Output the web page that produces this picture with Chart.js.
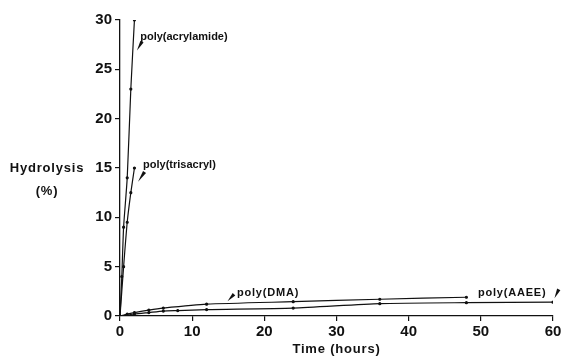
<!DOCTYPE html>
<html>
<head>
<meta charset="utf-8">
<script src="https://cdn.jsdelivr.net/npm/chart.js@4/dist/chart.umd.min.js"></script>
<style>
  html, body { margin: 0; padding: 0; background: #fff; }
  #wrap { width: 567px; height: 359px; }
</style>
</head>
<body>
<div id="wrap"><canvas id="chart"></canvas></div>
<script>
// values: time (h) and hydrolysis (%)
const acrylamideTime = [0, 0.25, 0.5, 1, 1.5, 2];
const acrylamideHyd = [0, 4, 9, 14, 23, 30];
const trisacrylTime = [0, 0.5, 1, 1.5, 2];
const trisacrylHyd = [0, 5, 9.5, 12.5, 15];
const dmaTime = [0, 1, 2, 4, 6, 12, 24, 36, 48];
const dmaHyd = [0, 0.2, 0.35, 0.6, 0.8, 1.2, 1.45, 1.7, 1.9];
const aaeeTime = [0, 2, 4, 6, 8, 12, 24, 36, 48, 60];
const aaeeHyd = [0, 0.2, 0.35, 0.5, 0.55, 0.65, 0.8, 1.25, 1.35, 1.4];

const xTicks = [0, 10, 20, 30, 40, 50, 60];
const yTicks = [0, 5, 10, 15, 20, 25, 30];

// curve labels: text, text anchor (h, %), arrow tail and tip (h, %)
const labels = [
  { text: 'poly(acrylamide)', at: [2.8, 28.3], tail: [3.05, 27.8], tip: [2.35, 26.9] },
  { text: 'poly(trisacryl)', at: [3.2, 15.3], tail: [3.4, 14.6], tip: [2.5, 13.6] },
  { text: 'poly(DMA)', at: [16.2, 2.35], tail: [15.8, 2.2], tip: [14.9, 1.5] },
  { text: 'poly(AAEE)', at: [49.6, 2.35], tail: [60.8, 2.7], tip: [60.2, 1.8] }
];

const ink = '#111';
const font = 'Liberation Sans, Arial, sans-serif';

function pairs(xs, ys) {
  return xs.map((x, i) => ({ x: x, y: ys[i] }));
}

function series(xs, ys) {
  return {
    data: pairs(xs, ys),
    borderColor: ink,
    backgroundColor: ink,
    borderWidth: 1.2,
    pointRadius: 1,
    pointHoverRadius: 1,
    tension: 0.2,
    showLine: true
  };
}

const labelPlugin = {
  id: 'curveLabels',
  afterDraw(chart) {
    const ctx = chart.ctx;
    const x = chart.scales.x, y = chart.scales.y;
    ctx.save();
    ctx.fillStyle = ink;
    ctx.strokeStyle = ink;
    ctx.font = 'bold 11px ' + font;
    ctx.textBaseline = 'middle';
    ctx.textAlign = 'left';
    labels.forEach(l => {
      ctx.letterSpacing = /[A-Z]/.test(l.text) ? '0.8px' : '0px';
      ctx.fillText(l.text, x.getPixelForValue(l.at[0]), y.getPixelForValue(l.at[1]));
      // little wedge arrow
      const tx = x.getPixelForValue(l.tail[0]), ty = y.getPixelForValue(l.tail[1]);
      const px = x.getPixelForValue(l.tip[0]), py = y.getPixelForValue(l.tip[1]);
      const ang = Math.atan2(py - ty, px - tx);
      const nx = -Math.sin(ang) * 1.8, ny = Math.cos(ang) * 1.8;
      ctx.beginPath();
      ctx.moveTo(tx + nx, ty + ny);
      ctx.lineTo(tx - nx, ty - ny);
      ctx.lineTo(px, py);
      ctx.closePath();
      ctx.fill();
    });
    // axis titles; the y one is written horizontally
    ctx.font = 'bold 13px ' + font;
    ctx.letterSpacing = '0.8px';
    ctx.textAlign = 'center';
    ctx.fillText('Hydrolysis', 47, y.getPixelForValue(15));
    ctx.fillText('(%)', 47, y.getPixelForValue(15) + 23);
    ctx.fillText('Time (hours)', (chart.chartArea.left + chart.chartArea.right) / 2, 349);
    ctx.restore();
  }
};

new Chart(document.getElementById('chart'), {
  type: 'scatter',
  data: {
    datasets: [
      series(acrylamideTime, acrylamideHyd),
      series(trisacrylTime, trisacrylHyd),
      series(dmaTime, dmaHyd),
      series(aaeeTime, aaeeHyd)
    ]
  },
  options: {
    responsive: true,
    maintainAspectRatio: false,
    animation: false,
    layout: { padding: { top: 20, right: 14, bottom: 0, left: 0 } },
    plugins: { legend: { display: false }, tooltip: { enabled: false } },
    scales: {
      x: {
        type: 'linear',
        min: 0,
        max: 60,
        afterBuildTicks: s => { s.ticks = xTicks.map(v => ({ value: v })); },
        afterFit: s => { s.height = 43; },
        grid: { drawOnChartArea: false, tickLength: 5, color: ink, lineWidth: 1.2 },
        border: { color: ink, width: 1.3 },
        ticks: { color: ink, padding: 2, font: { family: font, size: 15, weight: 'bold' } }
      },
      y: {
        type: 'linear',
        min: 0,
        max: 30,
        afterBuildTicks: s => { s.ticks = yTicks.map(v => ({ value: v })); },
        afterFit: s => { s.width = 120; },
        grid: { drawOnChartArea: false, tickLength: 5, color: ink, lineWidth: 1.2 },
        border: { color: ink, width: 1.3 },
        ticks: { color: ink, padding: 3, font: { family: font, size: 15, weight: 'bold' } }
      }
    }
  },
  plugins: [labelPlugin]
});
</script>
</body>
</html>
